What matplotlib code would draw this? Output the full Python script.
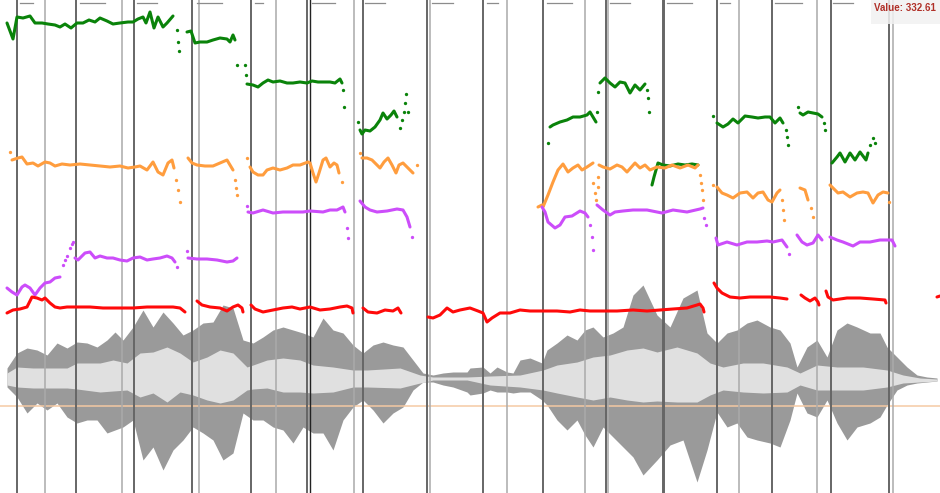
import matplotlib
matplotlib.use("Agg")
import matplotlib.pyplot as plt
import numpy as np
from matplotlib.patches import Rectangle

# ---- time base (ms) and formant tracks (Hz); each list holds voiced segments ----
green_t = [
    [35, 65, 85, 115, 150, 175, 210, 240, 275, 300, 325, 355, 385, 415, 445, 475, 500, 535, 565,
     600, 640, 665, 690, 715, 730, 750, 770, 790, 815, 835, 865],
    [935, 955, 975, 1000, 1035, 1065, 1100, 1135, 1150, 1165, 1175],
    [1235, 1265, 1290, 1315, 1340, 1365, 1400, 1435, 1465, 1500, 1535, 1560, 1590, 1615, 1650,
     1675, 1700, 1710],
    [1800, 1810, 1825, 1850, 1875, 1900, 1915, 1935, 1955, 1970, 1985],
    [2750, 2765, 2800, 2835, 2865, 2900, 2935, 2950, 2965, 2980],
    [3000, 3025, 3050, 3075, 3100, 3125, 3150, 3175, 3200, 3225],
    [3260, 3270, 3280, 3290, 3315, 3350, 3390, 3425, 3460, 3490],
    [3585, 3615, 3640, 3665, 3690, 3725, 3760, 3790, 3825, 3850, 3875, 3900, 3915],
    [4000, 4015, 4040, 4065, 4090, 4110],
    [4160, 4185, 4200, 4225, 4250, 4275, 4300, 4330, 4340],
]
green_hz = [
    [3070, 2910, 3130, 3120, 3140, 3070, 3070, 3060, 3050, 3030, 3060, 3020, 3070, 3070, 3100,
     3080, 3120, 3090, 3060, 3070, 3080, 3080, 3110, 3130, 3070, 3180, 3020, 3130, 3030, 3070, 3140],
    [2980, 2990, 2870, 2880, 2880, 2900, 2920, 2910, 2880, 2950, 2900],
    [2460, 2450, 2430, 2470, 2500, 2480, 2490, 2470, 2470, 2480, 2470, 2490, 2480, 2480, 2480,
     2470, 2510, 2470],
    [2000, 1960, 2000, 1990, 2030, 2100, 2170, 2110, 2150, 2190, 2130],
    [2030, 2050, 2080, 2100, 2130, 2130, 2150, 2180, 2130, 2080],
    [2470, 2520, 2470, 2430, 2480, 2470, 2370, 2450, 2400, 2460],
    [1450, 1530, 1600, 1670, 1650, 1640, 1660, 1650, 1660, 1650],
    [2070, 2030, 2060, 2110, 2070, 2140, 2130, 2120, 2130, 2130, 2070, 2120, 2070],
    [2170, 2150, 2180, 2170, 2160, 2130],
    [1670, 1730, 1770, 1680, 1770, 1700, 1780, 1700, 1770],
]
green_dot_t = [885, 890, 895, 1185, 1225, 1230, 1715, 1720, 1790, 2000, 2010, 2020, 2025, 2030,
               2040, 2740, 2985, 2990, 3235, 3240, 3245, 3565, 3930, 3935, 3940, 3990, 4120, 4125,
               4350, 4365, 4375]
green_dot_hz = [3000, 2880, 2790, 2650, 2650, 2550, 2400, 2230, 2080, 2020, 2100, 2180, 2270, 2360,
                2180, 1870, 2180, 2380, 2400, 2320, 2180, 2140, 2000, 1930, 1850, 2230, 2070, 2000,
                1850, 1920, 1870]

orange_t = [
    [60, 90, 110, 135, 165, 190, 225, 250, 275, 310, 350, 400, 450, 500, 550, 600, 640, 675, 700,
     735, 765, 790, 815, 840, 860, 870],
    [940, 960, 985, 1025, 1065, 1100, 1135, 1150, 1165],
    [1250, 1265, 1290, 1315, 1335, 1365, 1400, 1435, 1465, 1500, 1540, 1550, 1565, 1580, 1595,
     1615, 1630, 1650, 1670, 1685, 1695],
    [1810, 1835, 1860, 1885, 1900, 1920, 1940, 1960, 1980, 1995, 2015, 2040, 2065],
    [2690, 2710, 2715, 2740, 2765, 2790, 2815, 2840, 2865, 2890, 2910, 2935, 2965],
    [2995, 3015, 3050, 3085, 3110, 3135, 3175, 3200, 3225, 3250, 3285, 3325, 3360, 3400, 3440,
     3475, 3490],
    [3585, 3610, 3635, 3665, 3700, 3735, 3765, 3790, 3815, 3840, 3860, 3885, 3900],
    [4000, 4025, 4040],
    [4150, 4165, 4190, 4215, 4250, 4285, 4315, 4340, 4365, 4390, 4415, 4440],
]
orange_hz = [
    [1700, 1720, 1730, 1660, 1670, 1640, 1680, 1670, 1640, 1660, 1650, 1660, 1650, 1640, 1630,
     1640, 1620, 1630, 1640, 1600, 1680, 1580, 1550, 1670, 1700, 1620],
    [1720, 1670, 1650, 1640, 1640, 1670, 1700, 1650, 1600],
    [1630, 1580, 1550, 1550, 1600, 1620, 1600, 1620, 1650, 1650, 1680, 1670, 1570, 1480, 1570,
     1700, 1720, 1630, 1670, 1650, 1570],
    [1720, 1720, 1700, 1650, 1620, 1680, 1720, 1650, 1570, 1650, 1670, 1620, 1570],
    [1230, 1250, 1230, 1350, 1480, 1600, 1660, 1580, 1620, 1650, 1600, 1630, 1670],
    [1650, 1630, 1610, 1650, 1630, 1580, 1670, 1620, 1650, 1600, 1630, 1620, 1650, 1620, 1650,
     1620, 1650],
    [1430, 1370, 1350, 1320, 1370, 1380, 1320, 1370, 1380, 1300, 1280, 1370, 1400],
    [1420, 1400, 1300],
    [1450, 1420, 1370, 1380, 1330, 1370, 1380, 1370, 1270, 1350, 1380, 1370],
]
orange_dot_t = [50, 880, 890, 900, 1175, 1180, 1185, 1235, 1710, 1800, 2085, 2965, 2975, 2980,
                2990, 2990, 3500, 3505, 3510, 3515, 3565, 3910, 3915, 3920, 4055, 4065, 4445]
orange_dot_hz = [1780, 1500, 1400, 1280, 1500, 1420, 1350, 1720, 1480, 1770, 1650, 1470, 1370, 1300,
                 1430, 1530, 1550, 1470, 1400, 1300, 1450, 1300, 1200, 1100, 1220, 1130, 1280]

purple_t = [
    [35, 60, 85, 110, 125, 150, 175, 200, 225, 250, 275, 300],
    [375, 390, 425, 450, 475, 500, 535, 565, 600, 635, 665, 700, 735, 765, 800, 835, 860, 875],
    [940, 985, 1035, 1085, 1135, 1165, 1185],
    [1240, 1265, 1315, 1365, 1415, 1465, 1515, 1550, 1615, 1650, 1685, 1715, 1725],
    [1800, 1825, 1850, 1885, 1935, 1985, 2015, 2035, 2050],
    [2710, 2725, 2740, 2775, 2800, 2825, 2860, 2900, 2925, 2940],
    [2985, 3015, 3050, 3075, 3115, 3165, 3235, 3310, 3365, 3435, 3500, 3515],
    [3580, 3590, 3635, 3685, 3735, 3785, 3835, 3865, 3910, 3935],
    [3985, 4010, 4035, 4065, 4090, 4110],
    [4150, 4185, 4215, 4265, 4300, 4350, 4400, 4435, 4460, 4475],
]
purple_hz = [
    [420, 380, 350, 430, 450, 420, 350, 420, 470, 480, 520, 530],
    [720, 700, 770, 780, 720, 740, 720, 720, 700, 690, 720, 730, 700, 710, 720, 740, 720, 680],
    [720, 710, 710, 700, 680, 690, 720],
    [1180, 1170, 1200, 1170, 1180, 1180, 1180, 1190, 1180, 1200, 1200, 1230, 1180],
    [1290, 1230, 1200, 1180, 1190, 1210, 1200, 1130, 1030],
    [1230, 1180, 1080, 1020, 1050, 1130, 1140, 1190, 1170, 1130],
    [1250, 1200, 1150, 1180, 1190, 1200, 1200, 1170, 1200, 1180, 1210, 1220],
    [920, 850, 880, 850, 880, 880, 890, 880, 900, 830],
    [950, 880, 850, 870, 950, 900],
    [930, 900, 880, 840, 880, 880, 900, 900, 900, 840],
]
purple_dot_t = [315, 325, 335, 350, 360, 365, 885, 935, 1235, 1735, 1740, 2060, 2950, 2960, 2965,
                3520, 3530, 3945]
purple_dot_hz = [650, 700, 740, 820, 860, 880, 630, 790, 1240, 1020, 920, 930, 1050, 930, 800,
                 1120, 1050, 760]

red_t = [
    [35, 65, 100, 135, 160, 185, 210, 225, 250, 275, 300, 335, 385, 450, 515, 585, 665, 735, 800,
     865, 900, 925],
    [985, 1010, 1050, 1100, 1135, 1165, 1190, 1210, 1215],
    [1255, 1275, 1315, 1365, 1415, 1460, 1500, 1550, 1600, 1650, 1700, 1735, 1760, 1765],
    [1815, 1840, 1885, 1925, 1965, 1990, 2005],
    [2140, 2165, 2200, 2235, 2265, 2300, 2350, 2390, 2415, 2435, 2460, 2500, 2550, 2600, 2650,
     2715, 2785, 2850, 2900, 2950, 3015, 3085, 3165, 3235, 3300, 3365, 3435, 3485, 3500, 3515, 3520],
    [3570, 3585, 3610, 3650, 3700, 3750, 3800, 3850, 3900, 3935],
    [4005, 4025, 4050, 4075, 4090, 4095],
    [4130, 4140, 4165, 4235, 4300, 4365, 4425, 4430],
    [4685, 4700],
]
red_hz = [
    [170, 200, 210, 230, 330, 320, 300, 320, 270, 230, 220, 230, 230, 230, 220, 220, 220, 230, 230,
     230, 220, 180],
    [290, 250, 230, 220, 190, 230, 250, 220, 180],
    [250, 210, 180, 200, 220, 230, 210, 230, 200, 210, 230, 240, 220, 170],
    [220, 180, 170, 200, 190, 220, 170],
    [130, 120, 150, 220, 180, 200, 220, 190, 170, 80, 120, 170, 170, 200, 190, 190, 190, 180, 200,
     190, 190, 190, 200, 190, 200, 210, 220, 250, 260, 220, 180],
    [470, 420, 370, 330, 320, 330, 330, 330, 320, 310],
    [350, 320, 290, 320, 280, 250],
    [390, 330, 300, 320, 320, 310, 300, 270],
    [330, 340],
]

# ---- waveform envelope (sample amplitude units) ----
env_t = [35, 85, 135, 185, 235, 285, 335, 385, 435, 485, 535, 575, 615, 665, 715, 765, 815, 865,
         915, 965, 1015, 1065, 1115, 1165, 1215, 1265, 1315, 1365, 1415, 1465, 1515, 1565, 1615,
         1665, 1715, 1765, 1815, 1865, 1915, 1965, 2015, 2065, 2115, 2165, 2215, 2265, 2335,
         2350, 2415, 2450, 2485, 2535, 2565, 2600, 2650, 2710, 2735, 2785, 2835, 2885, 2925, 2965,
         3015, 3065, 3115, 3165, 3215, 3285, 3350, 3415, 3485, 3535, 3585, 3635, 3685, 3735, 3785,
         3850, 3900, 3950, 3985, 4035, 4085, 4135, 4185, 4235, 4285, 4350, 4400, 4435, 4485, 4535,
         4585, 4635, 4685]
env_top = [10, 25, 30, 28, 23, 35, 30, 36, 35, 31, 38, 46, 38, 51, 68, 51, 66, 55, 43, 48, 55, 56,
           73, 70, 38, 35, 41, 48, 51, 48, 45, 41, 60, 48, 45, 33, 25, 33, 36, 33, 31, 18, 5, 3, 5,
           6, 6,
           10, 11, 5, 11, 6, 5, 18, 20, 15, 28, 35, 43, 38, 48, 51, 41, 45, 51, 83, 93, 63, 51, 80,
           88, 45, 35, 45, 48, 55, 58, 51, 48, 35, 11, 31, 38, 21, 48, 55, 51, 45, 45, 31, 21, 11,
           3, 1, 0]
env_bot = [-9, -19, -35, -25, -32, -25, -39, -45, -42, -42, -55, -52, -49, -42, -82, -69, -92, -72,
           -62, -49, -55, -62, -82, -75, -35, -42, -42, -49, -52, -65, -49, -55, -55, -72, -42, -29,
           -22, -32, -45, -35, -29, -12, -4, -4, -7, -9, -14,
           -17, -15, -12, -14, -14, -15, -14, -14, -22, -27, -42, -52, -42, -57, -69, -49, -59,
           -69, -79, -97, -82, -67, -62, -104, -72, -34, -49, -45, -59, -62, -65, -69, -42, -15,
           -35, -39, -22, -45, -62, -49, -45, -39, -27, -12, -7, -5, -4, -3]

core_t = [35, 85, 165, 335, 385, 500, 565, 635, 700, 765, 835, 900, 965, 1035, 1100, 1165, 1235,
          1265, 1335, 1415, 1500, 1565, 1665, 1765, 1835, 2000, 2100, 2165, 2335,
          2450, 2600, 2715, 2785, 2885, 2965, 3050, 3135, 3215, 3285, 3385, 3485, 3550, 3615,
          3715, 3815, 3935, 4000, 4085, 4185, 4315, 4435, 4515, 4600, 4685]
core_top = [5, 11, 10, 10, 15, 15, 18, 15, 25, 26, 31, 25, 16, 21, 28, 25, 11, 13, 18, 20, 18, 13,
            11, 8, 8, 10, 3, 1, 1,
            2, 3, 8, 13, 16, 21, 23, 28, 30, 26, 31, 25, 15, 11, 15, 15, 11, 5, 13, 11, 11, 8, 3,
            0, -1]
core_bot = [-7, -9, -10, -10, -11, -14, -13, -12, -19, -15, -24, -14, -17, -22, -25, -22, -12, -11,
            -10, -14, -14, -15, -14, -9, -9, -10, -5, -2, -2,
            -7, -9, -12, -15, -19, -22, -19, -22, -24, -23, -24, -24, -17, -12, -14, -15, -14,
            -7, -12, -12, -12, -9, -5, -4, -3]

# ---- segment boundaries (ms) and label positions ----
major_bounds = [85, 380, 670, 960, 1255, 1535, 1815, 2135, 2415, 2715, 3030, 3315, 3320, 3585,
                3860, 4155, 4445]
minor_bounds = [225, 610, 995, 1380, 1770, 2150, 2535, 2925, 3040, 3695, 4085, 4465]
cursor_t = 1550
label_spans = [(100, 165), (400, 525), (685, 785), (985, 1110), (1275, 1315), (1560, 1675),
               (1825, 1925), (2160, 2265), (2435, 2490), (2735, 2860), (3050, 3150),
               (3335, 3460), (3600, 3650), (3875, 4010), (4165, 4265)]
threshold_amp = -28
hover_text = "Value: 332.61"

W, H = 940, 493
fig = plt.figure(figsize=(W / 100, H / 100), dpi=100)
ax_w = fig.add_axes([0, 0, 1, 1])
ax_w.set_xlim(0, 4700)
ax_w.set_ylim(-115, 378)
ax_w.axis("off")

ax_w.fill_between(env_t, env_bot, env_top, color="#9a9a9a", lw=0, zorder=1)
ax_w.fill_between(core_t, core_bot, core_top, color="#e0e0e0", lw=0, zorder=2)
ax_w.axhline(threshold_amp, color="#f5c9a2", lw=1.2, alpha=0.9, zorder=3)

for t in major_bounds:
    ax_w.axvline(t, color="#666666", lw=1.4, zorder=4)
for t in minor_bounds:
    ax_w.axvline(t, color="#aaaaaa", lw=1.1, zorder=4)
ax_w.axvline(cursor_t, color="#222222", lw=1.0, zorder=5)
for a, b in label_spans:
    ax_w.plot([a, b], [375, 375], color="#8c8c8c", lw=0.9, zorder=4)

ax_f = ax_w.twinx()
ax_f.set_xlim(0, 4700)
ax_f.set_ylim(-1630, 3300)
ax_f.axis("off")
ax_f.patch.set_visible(False)

tracks = [
    (green_t, green_hz, green_dot_t, green_dot_hz, "#0a830a"),
    (orange_t, orange_hz, orange_dot_t, orange_dot_hz, "#ff9d3e"),
    (purple_t, purple_hz, purple_dot_t, purple_dot_hz, "#cc4dfa"),
    (red_t, red_hz, [], [], "#ff0a0a"),
]
for seg_t, seg_hz, dot_t, dot_hz, col in tracks:
    for t, hz in zip(seg_t, seg_hz):
        ax_f.plot(t, hz, color=col, lw=2.2, solid_capstyle="round", solid_joinstyle="round")
    if dot_t:
        ax_f.plot(dot_t, dot_hz, "o", color=col, ms=2.4, mew=0)

# hover readout box in the top-right corner
fig.patches.append(Rectangle((871 / W, 1 - 24 / H), 69 / W, 24 / H, transform=fig.transFigure,
                             facecolor="#f2f2f2", edgecolor="none", alpha=0.85, zorder=10))
fig.text(874 / W, 1 - 8 / H, hover_text, color="#b03028", fontsize=7, fontweight="bold",
         family=["Liberation Sans", "DejaVu Sans"], va="center", ha="left", zorder=11)

fig.savefig("out.png", dpi=100)
